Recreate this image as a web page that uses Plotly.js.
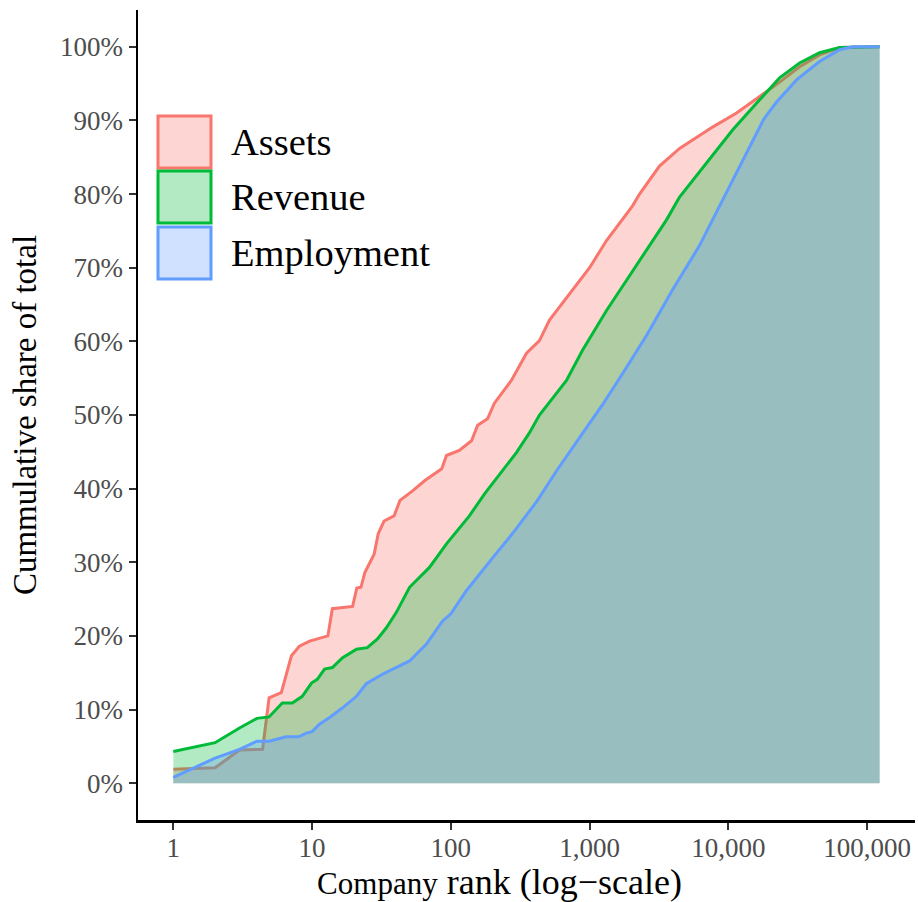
<!DOCTYPE html>
<html>
<head>
<meta charset="utf-8">
<script src="https://cdn.plot.ly/plotly-3.0.1.min.js"></script>
<style>
  html, body { margin: 0; padding: 0; background: #ffffff; }
  #chart { width: 918px; height: 902px; }
</style>
</head>
<body>
<div id="chart"></div>
<script>
// ---- Data ----
const seriesNames = ["Assets", "Revenue", "Employment"];

const assetsRank = [1, 2, 3, 4, 4.4, 4.9, 6, 7.1, 8.1, 9.6, 11.3, 13, 14, 19.6, 21, 22.5, 24, 28, 30, 33, 39, 43, 53, 65, 86, 93, 115, 141, 156, 184, 206, 236, 273, 351, 435, 514, 753, 1000, 1324, 1698, 2040, 2290, 3190, 4450, 6190, 7690, 11460, 16800, 23400, 32600, 45400, 63400, 123000];
const assetsShare = [1.9, 2.1, 4.5, 4.5, 4.6, 11.6, 12.3, 17.3, 18.6, 19.3, 19.7, 20.0, 23.7, 24.0, 26.5, 26.6, 28.6, 31.1, 33.9, 35.6, 36.3, 38.4, 39.7, 41.1, 42.7, 44.5, 45.2, 46.5, 48.6, 49.5, 51.6, 53.1, 54.7, 58.4, 60.1, 62.9, 66.9, 70.0, 73.7, 76.5, 78.4, 80.0, 83.8, 86.2, 88.0, 89.1, 91.0, 93.2, 95.2, 97.3, 98.9, 99.9, 100];

const revenueRank = [1, 2, 3, 4, 4.9, 6.1, 7.2, 8.5, 9.9, 10.9, 12.3, 14, 16.5, 20.9, 25, 29.6, 34.3, 40.5, 50.4, 70.1, 93, 110, 136, 175, 236, 297, 369, 435, 558, 681, 889, 1324, 1846, 2571, 3583, 4450, 6970, 10720, 16800, 23400, 32600, 45400, 63400, 123000];
const revenueShare = [4.3, 5.5, 7.5, 8.8, 9.0, 10.9, 10.9, 11.8, 13.6, 14.1, 15.5, 15.7, 17.0, 18.2, 18.4, 19.6, 21.1, 23.2, 26.6, 29.3, 32.5, 34.2, 36.3, 39.3, 42.4, 44.9, 47.6, 50.0, 52.6, 54.7, 58.8, 64.2, 68.3, 72.4, 76.5, 79.6, 84.2, 88.7, 92.8, 95.8, 97.8, 99.2, 99.9, 100];

const employmentRank = [1, 2, 3, 4, 4.9, 6.5, 8, 9.1, 10, 11.3, 13.3, 16.5, 20.9, 24.6, 32.1, 40.5, 50.4, 66.7, 87, 100, 129, 200, 278, 414, 577, 889, 1239, 1698, 2571, 3963, 6190, 7690, 10720, 14930, 18000, 22250, 31000, 45400, 63400, 78600, 123000];
const employmentShare = [0.8, 3.4, 4.6, 5.7, 5.7, 6.3, 6.3, 6.8, 7.0, 8.0, 8.9, 10.2, 11.8, 13.5, 14.8, 15.7, 16.6, 18.9, 22.0, 23.0, 26.1, 30.6, 33.9, 38.2, 42.4, 47.5, 51.4, 55.4, 60.8, 67.0, 73.0, 76.5, 81.9, 87.3, 90.2, 92.5, 95.5, 98.0, 99.6, 100, 100];

const xTickVals = [1, 10, 100, 1000, 10000, 100000];
const xTickText = ["1", "10", "100", "1,000", "10,000", "100,000"];
const yTickVals = [0, 10, 20, 30, 40, 50, 60, 70, 80, 90, 100];
const yTickText = ["0%", "10%", "20%", "30%", "40%", "50%", "60%", "70%", "80%", "90%", "100%"];

// ---- Styling ----
const lineColors = ["#F8766D", "#00BA38", "#619CFF"];
const fillColors = ["rgba(248,118,109,0.3)", "rgba(0,186,56,0.3)", "rgba(97,156,255,0.3)"];
const keyFills = ["#FDD6D3", "#B3EAC3", "#D0E1FF"];
const FONT = "Liberation Serif, Times New Roman, serif";

const xs = [assetsRank, revenueRank, employmentRank];
const ys = [assetsShare, revenueShare, employmentShare];

const traces = seriesNames.map((name, i) => ({
  type: "scatter",
  mode: "lines",
  name: name,
  x: xs[i],
  y: ys[i],
  fill: "tozeroy",
  fillcolor: fillColors[i],
  line: { color: lineColors[i], width: 3 },
  hoverinfo: "skip"
}));

// Plot area geometry (for legend placement in paper coords)
const L = 138, R = 3, T = 10, B = 82, W = 918, H = 902;
const pw = W - L - R, ph = H - T - B;
const px = v => (v - L) / pw;
const py = v => (H - B - v) / ph;

const keyTops = [116, 171, 227];
const keyBottoms = [168, 223, 279];
const shapes = [];
const annotations = [];
seriesNames.forEach((name, i) => {
  shapes.push({
    type: "rect", xref: "paper", yref: "paper", layer: "above",
    x0: px(158), x1: px(211), y0: py(keyBottoms[i]), y1: py(keyTops[i]),
    fillcolor: keyFills[i],
    line: { color: lineColors[i], width: 3 }
  });
  annotations.push({
    xref: "paper", yref: "paper",
    x: px(229), y: py((keyTops[i] + keyBottoms[i]) / 2),
    xanchor: "left", yanchor: "middle",
    text: name, showarrow: false,
    font: { family: FONT, size: 38.5, color: "#000000" }
  });
});

const layout = {
  width: W, height: H,
  margin: { l: L, r: R, t: T, b: B, pad: 0 },
  paper_bgcolor: "#ffffff",
  plot_bgcolor: "#ffffff",
  showlegend: false,
  hovermode: false,
  font: { family: FONT, color: "#000000" },
  xaxis: {
    type: "log",
    range: [-0.2545, 5.345],
    tickvals: xTickVals,
    ticktext: xTickText,
    showgrid: false, zeroline: false,
    showline: true, linecolor: "#000000", linewidth: 2.5,
    ticks: "outside", ticklen: 7, tickwidth: 2, tickcolor: "#333333",
    ticklabelstandoff: -5,
    tickfont: { family: FONT, size: 27, color: "#4D4D4D" },
    automargin: false,
    title: {
      text: '<span style="font-size:31px">Company</span> rank (log\u2212scale)&nbsp;&nbsp;&nbsp;&nbsp;&nbsp;&nbsp;',
      font: { family: FONT, size: 36, color: "#000000" },
      standoff: 4
    }
  },
  yaxis: {
    range: [-5, 105],
    tickvals: yTickVals,
    ticktext: yTickText,
    showgrid: false, zeroline: false,
    showline: true, linecolor: "#000000", linewidth: 2.5,
    ticks: "outside", ticklen: 7, tickwidth: 2, tickcolor: "#333333",
    tickfont: { family: FONT, size: 27, color: "#4D4D4D" },
    automargin: false,
    title: {
      text: "Cummulative share of total",
      font: { family: FONT, size: 33, color: "#000000" },
      standoff: 14
    }
  },
  shapes: shapes,
  annotations: annotations
};

Plotly.newPlot("chart", traces, layout, { staticPlot: true, displayModeBar: false });
</script>
</body>
</html>
